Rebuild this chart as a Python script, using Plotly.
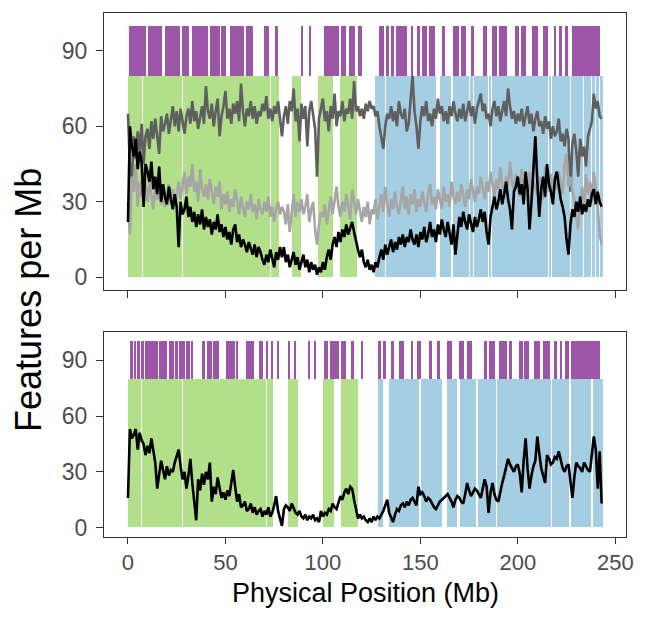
import plotly.graph_objects as go

# ---------------- data ----------------
pos_mb = list(range(244))

top_dark = [65, 44, 39, 56, 47, 58, 50, 61, 45, 56,
            59, 51, 62, 55, 63, 57, 49, 64, 58, 61,
            65, 57, 63, 68, 60, 66, 58, 67, 62, 57,
            64, 67, 61, 70, 62, 66, 59, 64, 68, 61,
            76, 66, 63, 69, 60, 66, 71, 56, 64, 68,
            74, 63, 67, 61, 69, 65, 70, 62, 77, 66,
            60, 67, 64, 70, 63, 68, 61, 66, 64, 69,
            66, 72, 63, 67, 62, 68, 65, 70, 63, 56,
            64, 68, 61, 70, 66, 75, 62, 67, 54, 69,
            63, 68, 52, 66, 70, 64, 59, 40, 63, 67,
            71, 62, 66, 58, 68, 63, 73, 60, 66, 64,
            70, 62, 67, 65, 71, 63, 78, 66, 68, 64,
            67, 63, 69, 66, 70, 67, 68, 64, 66, 60,
            55, 51, 60, 65, 63, 68, 62, 66, 60, 70,
            65, 63, 67, 58, 61, 69, 80, 66, 60, 51,
            62, 68, 64, 70, 62, 65, 60, 67, 63, 71,
            65, 68, 62, 66, 61, 68, 64, 70, 65, 62,
            67, 63, 69, 62, 66, 70, 64, 68, 61, 67,
            70, 73, 66, 69, 63, 65, 60, 67, 70, 64,
            68, 62, 66, 70, 64, 75, 68, 63, 66, 61,
            65, 62, 67, 60, 64, 68, 61, 65, 58, 63,
            66, 60, 62, 57, 64, 59, 62, 55, 60, 56,
            58, 63, 54, 57, 52, 59, 55, 34, 53, 57,
            50, 40, 55, 48, 52, 44, 56, 59, 62, 73,
            67, 70, 64, 63]

top_light = [30, 17, 40, 34, 45, 28, 38, 32, 42, 36,
             30, 38, 33, 27, 36, 31, 35, 29, 34, 28,
             32, 37, 30, 35, 28, 33, 38, 31, 36, 42,
             33, 40, 36, 45, 34, 38, 30, 43, 35, 32,
             37, 31, 39, 34, 29, 36, 32, 38, 27, 33,
             29, 34, 26, 31, 28, 35, 30, 25, 32, 28,
             24, 30, 27, 33, 26, 29, 23, 31, 27, 25,
             30, 26, 32, 24, 28, 22, 27, 30, 25, 28,
             26, 21, 29, 18, 27, 33, 24, 30, 26, 31,
             25, 28, 33, 22, 27, 30, 19, 13, 21, 26,
             24, 29, 21, 27, 32, 25, 30, 36, 28, 24,
             30, 26, 33, 28, 23, 35, 29, 25, 31, 27,
             22, 28, 24, 30, 21, 27, 25, 31, 23, 28,
             33, 26, 36, 29, 24, 31, 27, 34, 28, 25,
             30, 36, 27, 32, 25, 33, 29, 35, 26, 31,
             28, 34, 30, 26, 33, 37, 29, 32, 27, 35,
             31, 27, 36, 30, 33, 28, 38, 32, 29, 34,
             30, 37, 33, 28, 35, 31, 39, 34, 30, 36,
             33, 40, 35, 31, 38, 34, 42, 36, 32, 39,
             35, 44, 37, 33, 40, 36, 46, 38, 34, 41,
             37, 32, 43, 36, 39, 34, 42, 30, 38, 35,
             33, 40, 36, 31, 44, 38, 34, 41, 30, 37,
             35, 42, 38, 33, 45, 49, 36, 40, 34, 31,
             24, 19, 30, 36, 28, 41, 33, 38, 30, 42,
             35, 28, 17, 13]

top_black = [22, 60, 52, 48, 55, 43, 50, 46, 28, 45,
             42, 38, 46, 35, 40, 33, 44, 30, 37, 32,
             29, 36, 31, 27, 33, 28, 12, 30, 25, 27,
             32, 24, 28, 22, 26, 20, 25, 21, 27, 19,
             24, 20, 23, 17, 22, 19, 25, 18, 21, 16,
             20, 15, 18, 13, 19, 21, 14, 17, 12, 15,
             13, 10, 14, 11, 9, 13, 8, 12, 10, 7,
             5, 9, 6, 11, 8, 4, 10, 7, 12, 8,
             12, 6, 9, 4, 7, 10, 5, 8, 3, 6,
             9, 4, 7, 2, 6, 3, 5, 1, 4, 2,
             6, 3, 8, 11, 7, 13, 16, 12, 18, 14,
             19, 16, 21, 17, 20, 22, 18, 14, 11, 8,
             11, 6, 4, 7, 3, 5, 2, 6, 4, 8,
             11, 7, 13, 9, 12, 15, 10, 14, 11, 16,
             13, 17, 12, 16, 14, 19, 15, 13, 17, 12,
             18, 15, 20, 14, 17, 22, 16, 19, 14, 21,
             17, 23, 19, 16, 22, 18, 13, 21, 9, 17,
             24, 20, 26, 22, 19, 25, 21, 18, 24, 20,
             23, 27, 22, 26, 18, 13, 24, 28, 32, 27,
             30, 35, 29, 33, 38, 31, 27, 19, 34, 36,
             40, 33, 37, 29, 42, 35, 19, 30, 44, 56,
             38, 24, 35, 40, 32, 45, 37, 34, 29, 39,
             42, 36, 31, 28, 24, 15, 9, 21, 27, 24,
             30, 26, 32, 25, 29, 26, 31, 28, 33, 35,
             29, 34, 30, 28]

bottom_black = [16, 53, 48, 50, 53, 42, 51, 47, 45, 39,
                44, 40, 48, 41, 35, 21, 30, 36, 31, 26,
                33, 28, 31, 30, 35, 38, 42, 33, 26, 30,
                21, 28, 37, 24, 15, 4, 26, 20, 29, 23,
                30, 26, 35, 14, 22, 18, 27, 21, 16, 19,
                15, 20, 17, 24, 31, 22, 14, 18, 11, 12,
                14, 9, 10, 13, 8, 11, 7, 9, 10, 6,
                9, 7, 11, 6, 8, 12, 17, 9, 5, 1,
                10, 12, 11, 9, 13, 10, 8, 7, 9, 6,
                5, 7, 4, 6, 5, 7, 4, 5, 3, 9,
                6, 8, 7, 10, 9, 13, 11, 10, 14, 17,
                15, 19, 21, 18, 22, 21, 15, 10, 5, 7,
                5, 6, 4, 3, 5, 3, 6, 4, 6, 5,
                7, 9, 12, 15, 8, 5, 3, 7, 10, 9,
                12, 13, 11, 14, 12, 15, 16, 14, 12, 22,
                18, 19, 17, 14, 16, 15, 13, 11, 10, 12,
                14, 15, 16, 17, 18, 16, 14, 11, 15, 17,
                16, 14, 13, 18, 24, 20, 17, 19, 21, 20,
                18, 16, 21, 26, 22, 8, 19, 24, 18, 15,
                14, 20, 24, 28, 33, 37, 34, 32, 30, 33,
                34, 29, 19, 36, 48, 32, 21, 28, 33, 36,
                49, 40, 32, 28, 24, 39, 37, 34, 35, 38,
                37, 41, 36, 32, 30, 33, 34, 25, 16, 27,
                35, 33, 32, 30, 35, 33, 31, 30, 38, 49,
                42, 21, 41, 13]

# shaded regions (start, end) in Mb
top_green = [(0, 7.3), (7.8, 27.5), (28.1, 72.8), (73.4, 77.3), (84.2, 88.6),
             (97.3, 105.4), (108.8, 117.5)]
top_blue = [(126.6, 131.7), (132.2, 157.8), (160.3, 165.5), (166.8, 175.0),
            (175.5, 177.2), (177.7, 184.9), (185.4, 186.2), (186.7, 215.5),
            (216.0, 217.2), (217.7, 226.6), (227.1, 233.4), (233.9, 237.7),
            (238.2, 239.4), (239.9, 241.6), (242.1, 243.5)]
top_purple = [(0.7, 9.2), (10.1, 17.7), (18.9, 26.6), (27.8, 31.4), (32.7, 41.1),
              (41.9, 47.0), (47.9, 50.1), (52.1, 59.3), (60.7, 64.1), (70.0, 72.6),
              (75.5, 77.2), (88.8, 89.8), (93.0, 94.0), (100.7, 108.4), (109.4, 111.8),
              (113.6, 116.4), (117.8, 120.3), (129.0, 131.4), (132.6, 134.0),
              (134.8, 136.5), (137.7, 140.4), (140.8, 143.3), (145.5, 146.4),
              (148.4, 149.8), (150.6, 153.5), (154.4, 157.4), (161.0, 162.6),
              (166.7, 169.6), (170.6, 173.6), (175.8, 177.6), (182.0, 184.2),
              (186.8, 189.3), (190.2, 194.6), (198.4, 200.4), (201.5, 204.4),
              (207.2, 210.2), (213.0, 215.6), (218.6, 219.8), (221.2, 222.8),
              (224.0, 225.8), (227.9, 242.2)]

bottom_green = [(0, 6.8), (7.3, 27.5), (28.1, 70.7), (71.4, 74.3), (82.0, 87.2),
                (99.9, 105.5), (109.2, 118.0)]
bottom_blue = [(128.3, 131.0), (133.9, 149.3), (150.2, 161.2), (163.8, 168.9),
               (170.3, 178.5), (179.8, 188.6), (189.3, 216.8), (217.4, 226.3),
               (227.5, 237.3), (238.6, 243.5)]
bottom_purple = [(1.0, 2.6), (2.9, 4.3), (4.6, 6.3), (6.8, 8.4), (8.6, 13.1),
                 (13.4, 15.2), (15.9, 19.9), (20.8, 23.6), (23.9, 25.8), (26.3, 29.2),
                 (29.7, 31.7), (32.4, 33.6), (38.2, 39.7), (40.4, 42.9), (43.5, 46.8),
                 (50.1, 54.7), (55.6, 56.4), (60.3, 64.9), (67.1, 69.5), (70.9, 71.9),
                 (73.5, 74.6), (76.7, 77.7), (82.0, 83.3), (85.0, 86.2), (92.2, 93.6),
                 (95.3, 96.5), (100.7, 102.4), (103.8, 108.4), (109.2, 111.8),
                 (114.4, 115.7), (119.8, 120.8), (128.3, 129.7), (131.0, 132.3),
                 (135.1, 136.5), (139.1, 141.6), (145.0, 146.4), (148.1, 150.2),
                 (154.4, 156.1), (158.6, 160.0), (163.8, 166.0), (169.7, 172.3),
                 (174.0, 176.5), (182.5, 184.2), (185.1, 188.5), (190.2, 194.4),
                 (195.3, 197.0), (200.4, 202.5), (203.0, 205.5), (208.1, 211.5),
                 (212.7, 216.6), (218.8, 220.0), (221.4, 222.6), (224.3, 226.0),
                 (227.3, 242.2)]

band_low, band_high, tick_high = 0, 80, 100
y_ticks = [0, 30, 60, 90]
x_ticks = [0, 50, 100, 150, 200, 250]

# ---------------- styles ----------------
GREEN = "#b2df8a"
BLUE = "#a6cee3"
PURPLE = "#984ea3"
DARK = "#5f5f5f"
LIGHT = "#a6a6a6"
FONT = "Liberation Sans"

fig = go.Figure()


def add_bands(intervals, base, top, color, xa, ya, opacity=1.0):
    fig.add_trace(go.Bar(
        x=[(a + b) / 2 for a, b in intervals],
        width=[b - a for a, b in intervals],
        y=[top - base] * len(intervals),
        base=[base] * len(intervals),
        marker=dict(color=color, line=dict(width=0)),
        opacity=opacity, xaxis=xa, yaxis=ya, hoverinfo="skip", showlegend=False))


def add_line(vals, color, xa, ya, w=2.6):
    fig.add_trace(go.Scatter(
        x=pos_mb, y=vals, mode="lines",
        line=dict(color=color, width=w),
        xaxis=xa, yaxis=ya, showlegend=False, hoverinfo="skip"))


# top panel
add_bands(top_green, band_low, band_high, GREEN, "x", "y")
add_bands(top_blue, band_low, band_high, BLUE, "x", "y")
add_bands(top_purple, band_high, tick_high, PURPLE, "x", "y", 0.95)
add_line(top_dark, DARK, "x", "y")
add_line(top_light, LIGHT, "x", "y")
add_line(top_black, "#000000", "x", "y")

# bottom panel
add_bands(bottom_green, band_low, band_high, GREEN, "x2", "y2")
add_bands(bottom_blue, band_low, band_high, BLUE, "x2", "y2")
add_bands(bottom_purple, band_high, tick_high, PURPLE, "x2", "y2", 0.95)
add_line(bottom_black, "#000000", "x2", "y2")

axis_common = dict(showline=True, linecolor="#333333", linewidth=1, mirror=True,
                   ticks="outside", tickwidth=1, tickcolor="#333333",
                   showgrid=False, zeroline=False)
yfont = dict(family=FONT, size=23, color="#4d4d4d")
xfont = dict(family=FONT, size=22, color="#4d4d4d")

xr = [-12.3, 255.5]
yr = [-5, 105]

fig.update_layout(
    width=630, height=601,
    margin=dict(l=96, r=10, t=4, b=72),
    paper_bgcolor="white", plot_bgcolor="white",
    barmode="overlay", bargap=0,
    xaxis=dict(domain=[0, 1], anchor="y", range=xr, tickvals=x_ticks, ticklen=7,
               showticklabels=False, **axis_common),
    yaxis=dict(domain=[0.4716, 1], anchor="x", range=yr, tickvals=y_ticks, ticklen=7,
               ticklabelstandoff=4, tickfont=yfont, **axis_common),
    xaxis2=dict(domain=[0, 1], anchor="y2", range=xr, tickvals=x_ticks, ticklen=6,
                tickfont=xfont, **axis_common),
    yaxis2=dict(domain=[0, 0.3907], anchor="x2", range=yr, tickvals=y_ticks, ticklen=7,
                ticklabelstandoff=4, tickfont=yfont, **axis_common),
    annotations=[
        dict(text="Physical Position (Mb)", xref="paper", yref="paper", x=0.5, y=-0.137,
             xanchor="center", yanchor="bottom", showarrow=False, borderpad=0,
             font=dict(family=FONT, size=27, color="#000000")),
        dict(text="Features per Mb", xref="paper", yref="paper", x=-0.145, y=0.453,
             xanchor="center", yanchor="middle", textangle=-90, showarrow=False,
             font=dict(family=FONT, size=36, color="#000000")),
    ],
)

fig.write_html("out.html")
